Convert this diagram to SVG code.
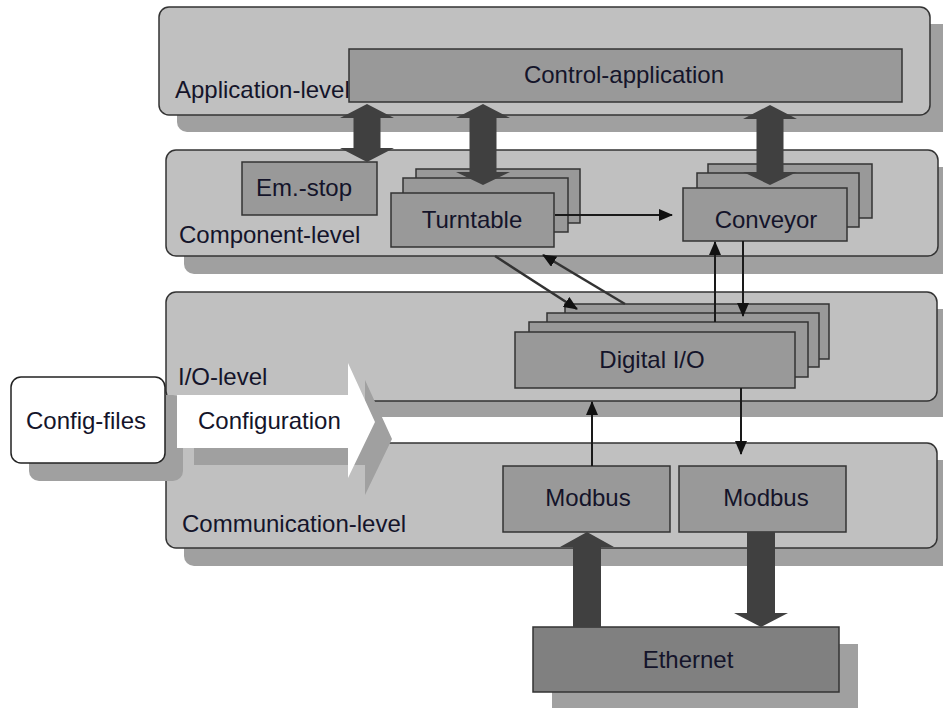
<svg xmlns="http://www.w3.org/2000/svg" width="943" height="708" viewBox="0 0 943 708">
  <defs>
    <marker id="tip" markerWidth="14" markerHeight="12" refX="13" refY="6" orient="auto" markerUnits="userSpaceOnUse">
      <path d="M0,0 L14,6 L0,12 Z" fill="#111"/>
    </marker>
    <style>
      .layer { fill: #c0c0c0; stroke: #333; stroke-width: 1.5; }
      .shadow { fill: #a0a0a0; }
      .box { fill: #999; stroke: #333; stroke-width: 1.5; }
      .dark { fill: #808080; stroke: #333; stroke-width: 1.5; }
      .thick { fill: #404040; }
      .thin { stroke: #1a1a1a; stroke-width: 2; fill: none; marker-end: url(#tip); }
      .diag { stroke: #333; stroke-width: 2.5; fill: none; marker-end: url(#tip); }
      text { font-family: "Liberation Sans", Arial, sans-serif; font-size: 24px; fill: #14142a; }
      .c { text-anchor: middle; }
    </style>
  </defs>

  <!-- Level bands -->
  <g id="application-level">
    <rect class="shadow" x="177" y="24" width="800" height="108" rx="10"/>
    <rect class="layer" x="159" y="7" width="771" height="108" rx="10"/>
    <text x="175" y="98">Application-level</text>
  </g>
  <g id="component-level">
    <rect class="shadow" x="184" y="167" width="800" height="107" rx="10"/>
    <rect class="layer" x="166" y="150" width="772" height="106" rx="10"/>
    <text x="179" y="243">Component-level</text>
  </g>
  <g id="io-level">
    <rect class="shadow" x="184" y="309" width="800" height="108" rx="10"/>
    <rect class="layer" x="166" y="292" width="771" height="109" rx="10"/>
    <text x="178" y="385">I/O-level</text>
  </g>
  <g id="communication-level">
    <rect class="shadow" x="184" y="460" width="800" height="106" rx="10"/>
    <rect class="layer" x="166" y="443" width="771" height="105" rx="10"/>
    <text x="182" y="532">Communication-level</text>
  </g>

  <!-- Config files and configuration flow -->
  <g id="config-files">
    <rect class="shadow" x="29" y="395" width="154" height="86" rx="10"/>
    <rect x="11" y="377" width="154" height="86" rx="10" fill="#fff" stroke="#222" stroke-width="1.5"/>
    <text class="c" x="86" y="429">Config-files</text>
  </g>
  <g id="configuration">
    <polygon class="shadow" points="194,412 365,412 365,380 392,439 365,495 365,465 194,465"/>
    <polygon fill="#fff" points="177,395 348,395 348,363 375,422 348,478 348,448 177,448"/>
    <text x="198" y="429">Configuration</text>
  </g>

  <!-- Application level -->
  <g id="control-application">
    <rect class="box" x="349" y="49" width="553" height="53"/>
    <text class="c" x="624" y="83">Control-application</text>
  </g>

  <!-- Component level -->
  <g id="em-stop">
    <rect class="box" x="242" y="162" width="135" height="53"/>
    <text class="c" x="304" y="196">Em.-stop</text>
  </g>
  <g id="turntable">
    <rect class="box" x="416" y="169" width="164" height="54"/>
    <rect class="box" x="403" y="178" width="165" height="54"/>
    <rect class="box" x="391" y="193" width="163" height="54"/>
    <text class="c" x="472" y="228">Turntable</text>
  </g>
  <g id="conveyor">
    <rect class="box" x="708" y="164" width="164" height="54"/>
    <rect class="box" x="697" y="173" width="162" height="54"/>
    <rect class="box" x="683" y="188" width="164" height="53"/>
    <text class="c" x="766" y="228">Conveyor</text>
  </g>

  <!-- I/O level -->
  <g id="digital-io">
    <rect class="box" x="565" y="304" width="264" height="55"/>
    <rect class="box" x="547" y="313" width="272" height="54"/>
    <rect class="box" x="529" y="322" width="279" height="55"/>
    <rect class="box" x="515" y="332" width="280" height="56"/>
    <text class="c" x="652" y="368">Digital I/O</text>
  </g>

  <!-- Communication level -->
  <g id="modbus-in">
    <rect class="box" x="503" y="466" width="167" height="66"/>
    <text class="c" x="588" y="506">Modbus</text>
  </g>
  <g id="modbus-out">
    <rect class="box" x="679" y="466" width="167" height="66"/>
    <text class="c" x="766" y="506">Modbus</text>
  </g>

  <!-- Network -->
  <g id="ethernet">
    <rect class="shadow" x="552" y="644" width="306" height="70"/>
    <rect class="dark" x="533" y="627" width="306" height="65"/>
    <text class="c" x="688" y="668">Ethernet</text>
  </g>

  <!-- Connectors -->
  <g id="connectors">
    <!-- two-way links between application and components -->
    <path class="thick" d="M367,104 L394,118 L380.5,118 L380.5,148 L394,148 L367,162 L340,148 L353.5,148 L353.5,118 L340,118 Z"/>
    <path class="thick" d="M483,104 L510,118 L496.5,118 L496.5,172 L510,172 L483,185 L456,172 L469.5,172 L469.5,118 L456,118 Z"/>
    <path class="thick" d="M770,105 L797,119 L783.5,119 L783.5,172 L797,172 L770,185 L743,172 L756.5,172 L756.5,119 L743,119 Z"/>
    <!-- Ethernet traffic -->
    <path class="thick" d="M587,532 L614,547 L601,547 L601,627 L573,627 L573,547 L560,547 Z"/>
    <path class="thick" d="M747,532 L775,532 L775,613 L788,613 L761,627 L734,613 L747,613 Z"/>
    <!-- signal flows -->
    <line class="thin" x1="555" y1="215" x2="672" y2="215"/>
    <line class="diag" x1="495" y1="256" x2="577" y2="309"/>
    <line class="diag" x1="625" y1="304" x2="543" y2="255"/>
    <line class="thin" x1="715" y1="322" x2="715" y2="242"/>
    <line class="thin" x1="743" y1="241" x2="743" y2="316"/>
    <line class="thin" x1="592" y1="466" x2="592" y2="402"/>
    <line class="thin" x1="741" y1="388" x2="741" y2="454"/>
  </g>
</svg>
